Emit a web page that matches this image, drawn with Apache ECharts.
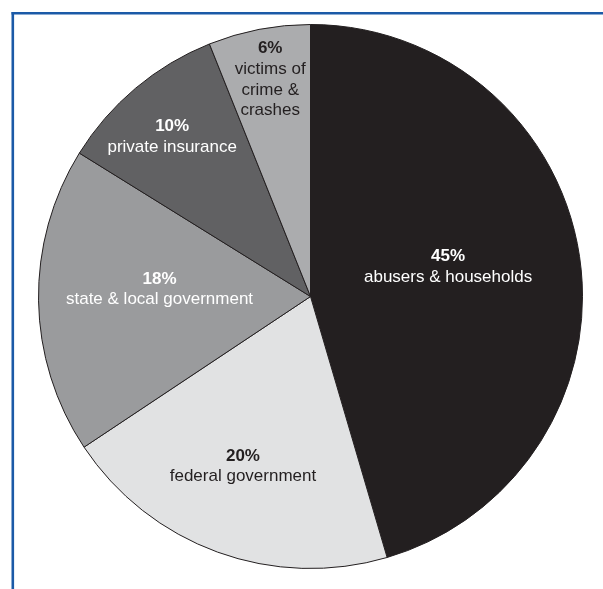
<!DOCTYPE html>
<html>
<head>
<meta charset="utf-8">
<style>
  html, body { margin: 0; padding: 0; background: #ffffff; }
  #chart { width: 603px; height: 589px; }
</style>
<script src="https://cdn.jsdelivr.net/npm/echarts@6/dist/echarts.min.js"></script>
</head>
<body>
<div id="chart"></div>
<script>
// Who pays: shares of the cost, clockwise from 12 o'clock
const payers = [
  'abusers & households',
  'federal government',
  'state & local government',
  'private insurance',
  'victims of\ncrime &\ncrashes'
];
const shares = [45, 20, 18, 10, 6];

// Slice fills and label colours
const sliceColors = ['#231f20', '#e1e2e3', '#9a9b9d', '#616163', '#abacae'];
const labelColors = ['#ffffff', '#231f20', '#ffffff', '#ffffff', '#231f20'];
// Nudges from the default inside label anchor
const labelShift = [[0, -10], [-20, 39], [-12, -9.5], [-49, -53], [-14, -80.5]];

const chart = echarts.init(document.getElementById('chart'), null, { renderer: 'canvas' });

const FONT = '"Liberation Sans", Arial, Helvetica, sans-serif';

chart.setOption({
  animation: false,
  backgroundColor: '#ffffff',
  graphic: [
    { type: 'line', shape: { x1: 11.5, y1: 13.2, x2: 603, y2: 13.2 },
      style: { stroke: '#1b5aa7', lineWidth: 2.6 } },
    { type: 'line', shape: { x1: 12.8, y1: 12, x2: 12.8, y2: 589 },
      style: { stroke: '#1b5aa7', lineWidth: 2.6 } }
  ],
  series: [{
    type: 'pie',
    center: [310.5, 296.5],
    radius: [0, 272],
    startAngle: 90,
    clockwise: true,
    silent: true,
    itemStyle: { borderColor: '#231f20', borderWidth: 1 },
    label: {
      show: true,
      position: 'inside',
      fontFamily: FONT,
      formatter: p => '{p|' + p.value + '%}\n{n|' + p.name.split('\n').join('}\n{n|') + '}',
      rich: {
        p: { fontFamily: FONT, fontSize: 17, fontWeight: 'bold', lineHeight: 21, align: 'center' },
        n: { fontFamily: FONT, fontSize: 17, lineHeight: 20.5, align: 'center' }
      }
    },
    labelLine: { show: false },
    labelLayout: p => ({ dx: labelShift[p.dataIndex][0], dy: labelShift[p.dataIndex][1] }),
    data: payers.map((name, i) => ({
      name: name,
      value: shares[i],
      itemStyle: { color: sliceColors[i] },
      label: {
        color: labelColors[i],
        rich: {
          p: { color: labelColors[i] },
          n: { color: labelColors[i] }
        }
      }
    }))
  }]
});
</script>
</body>
</html>
